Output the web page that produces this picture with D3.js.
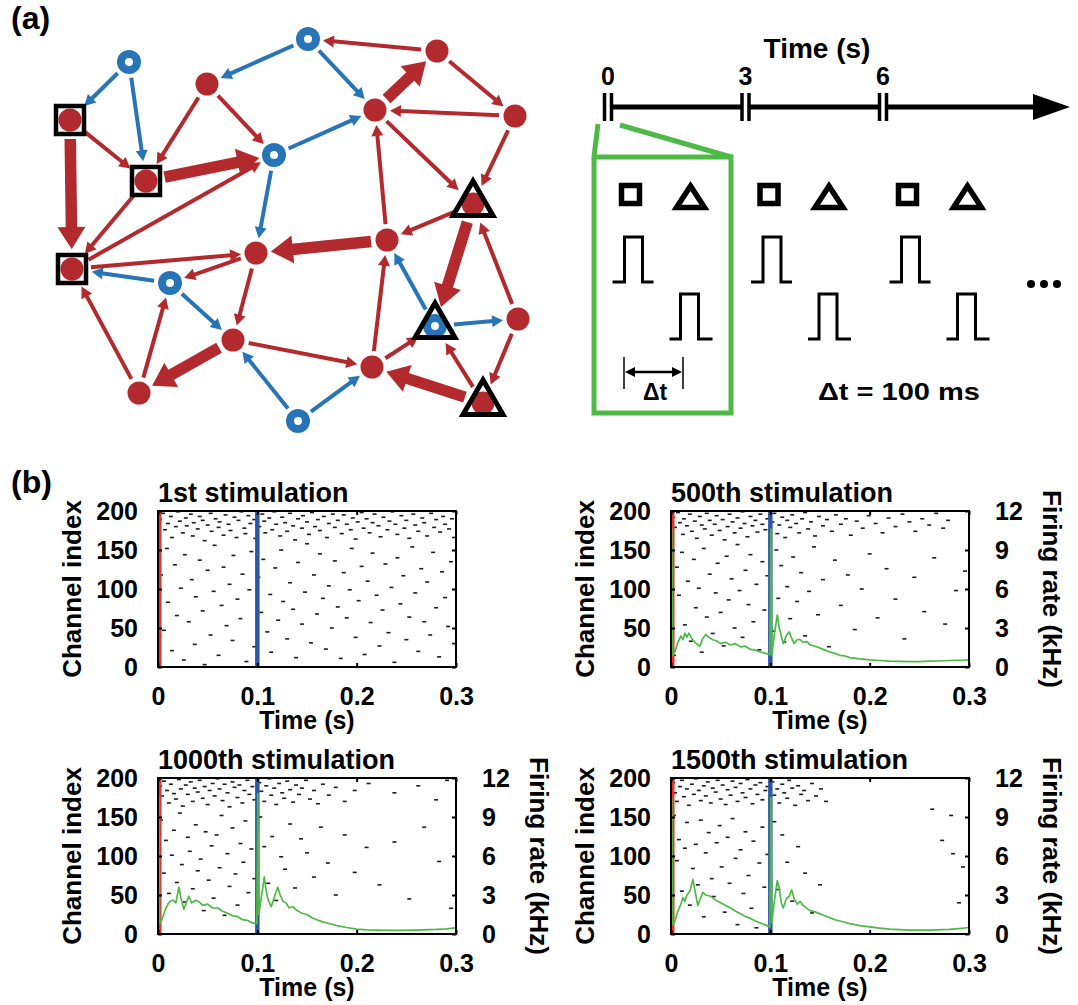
<!DOCTYPE html>
<html>
<head>
<meta charset="utf-8">
<script src="https://cdn.jsdelivr.net/npm/d3@7"></script>
<style>
body { margin: 0; background: #fff; }
svg { display: block; font-family: "Liberation Sans", Arial, Helvetica, sans-serif; font-weight: bold; }
</style>
</head>
<body>
<svg id="fig" width="1078" height="1005"></svg>
<script>
// ---------- data : network of panel (a) ----------
// E = excitatory (red), I = inhibitory (blue); mark = stimulated group
var nodes = [
	{id: "R1", type: "E", x: 207, y: 84},
	{id: "R2", type: "E", x: 437, y: 51},
	{id: "R3", type: "E", x: 375, y: 110},
	{id: "R4", type: "E", x: 515, y: 116},
	{id: "R5", type: "E", x: 70, y: 120, mark: "square"},
	{id: "R6", type: "E", x: 146, y: 181, mark: "square"},
	{id: "R7", type: "E", x: 256, y: 253},
	{id: "R8", type: "E", x: 387, y: 240},
	{id: "R9", type: "E", x: 473, y: 204, mark: "triangle"},
	{id: "R10", type: "E", x: 72, y: 269, mark: "square"},
	{id: "R11", type: "E", x: 233, y: 340},
	{id: "R12", type: "E", x: 518, y: 319},
	{id: "R13", type: "E", x: 372, y: 367},
	{id: "R14", type: "E", x: 139, y: 393},
	{id: "R15", type: "E", x: 483, y: 403, mark: "triangle"},
	{id: "B1", type: "I", x: 129, y: 62},
	{id: "B2", type: "I", x: 308, y: 39},
	{id: "B3", type: "I", x: 274, y: 155},
	{id: "B4", type: "I", x: 170, y: 283},
	{id: "B5", type: "I", x: 435, y: 326, mark: "triangle"},
	{id: "B6", type: "I", x: 298, y: 421}
];

// [source, target, weight]
var edges = [
	["B1", "R5", 1], ["B1", "R6", 1], ["B2", "R1", 1], ["B2", "R3", 1],
	["B3", "R3", 1], ["B3", "R7", 1], ["B4", "R10", 1], ["B4", "R11", 1],
	["B5", "R8", 1], ["B5", "R12", 1], ["B6", "R11", 1], ["B6", "R13", 1],
	["R1", "R6", 1], ["R1", "B3", 1], ["R2", "B2", 1], ["R3", "R2", 3],
	["R2", "R4", 1], ["R4", "R3", 1], ["R4", "R9", 1], ["R3", "R9", 1],
	["R8", "R3", 1], ["R13", "R8", 1], ["R9", "R8", 1], ["R8", "R7", 3],
	["R9", "B5", 3], ["R12", "R9", 1], ["R12", "R15", 1], ["R15", "B5", 1],
	["R15", "R13", 3], ["R13", "B5", 1], ["R11", "R13", 1], ["R11", "R14", 3],
	["R14", "R10", 1], ["R14", "B4", 1], ["R7", "R11", 1], ["R7", "B4", 1],
	["R10", "R7", 1], ["R5", "R10", 3], ["R5", "R6", 1], ["R6", "B3", 3],
	["R6", "R10", 1], ["R10", "B3", 1]
];

// ---------- data : stimulation protocol ----------
var timeTicks = [0, 3, 6];
var stimTimes = [0, 3, 6];
var deltaT = "\u0394t = 100 ms";

// ---------- data : raster plots, [time (ms), channel] ----------
var spikes1 = [
	[2,189],[5,197],[7,176],[10,184],[13,193],[14,166],[18,180],[20,199],[22,187],[25,172],[28,191],[29,181],[33,196],[35,168],[36,185],[40,177],[42,193],[45,188],[47,162],[50,182],[53,197],[54,174],[58,190],[61,179],[62,186],[66,169],[68,195],[71,183],[73,175],[77,192],[79,166],[81,188],[84,199],[87,178],[88,171],[91,194],[93,184],[97,189],[98,165],[102,180],[105,196],[107,187],[108,172],[112,191],[115,176],[117,199],[119,183],[123,168],[125,192],[128,185],[130,174],[133,197],[136,181],[138,163],[141,190],[145,178],[146,194],[150,186],[152,170],[155,198],[158,180],[161,189],[163,175],[167,193],[170,166],[172,184],[176,196],[178,179],[181,188],[185,171],[187,195],[190,183],[194,176],[196,191],[199,164],[201,186],[205,198],[207,178],[210,190],[213,172],[216,185],[218,196],[222,181],[224,167],[227,192],[231,176],[233,187],[236,199],[239,183],[241,170],[245,194],[248,178],[250,188],[253,165],[257,196],[259,182],[262,174],[266,191],[268,185],[271,168],[275,197],[278,179],[280,189],[284,173],[287,193],[289,183],[293,177],[296,190],[298,166],
	[3,118],[6,47],[9,152],[10,83],[14,21],[17,131],[19,66],[23,101],[26,9],[27,144],[31,58],[34,112],[37,29],[38,90],[42,137],[45,72],[47,3],[50,124],[53,41],[56,97],[57,156],[61,15],[64,79],[66,128],[69,53],[72,106],[75,34],[76,143],[80,87],[83,62],[85,119],[89,7],[92,99],[94,148],[97,26],[101,115],[104,70],[106,138],[110,45],[113,93],[114,19],[118,127],[121,60],[124,150],[126,84],[130,36],[133,108],[136,74],[139,12],[141,134],[145,55],[148,96],[150,158],[154,31],[157,118],[160,68],[163,145],[166,88],[169,23],[172,104],[175,50],[178,136],[181,77],[184,11],[187,121],[190,63],[193,99],[195,152],[199,38],[202,85],[205,129],[208,16],[211,110],[214,57],[216,146],[220,92],[223,27],[226,73],[229,132],[232,44],[235,102],[238,6],[241,140],[244,81],[247,117],[250,35],[253,64],[256,154],[259,95],[262,20],[265,126],[268,58],[271,109],[274,41],[277,147],[280,76],[283,13],[286,122],[289,89],[292,52],[295,135],[298,30]
];
var spikes500 = [
	[2,192],[4,179],[7,198],[9,185],[12,170],[13,190],[16,181],[19,196],[21,174],[24,187],[26,165],[29,193],[31,182],[34,177],[36,197],[39,188],[41,169],[44,183],[46,194],[49,175],[52,189],[54,163],[57,180],[59,196],[62,186],[64,172],[67,191],[70,178],[72,199],[74,184],[77,167],[80,193],[82,181],[85,188],[87,173],[90,196],[92,183],[95,176],[97,190],[102,186],[104,197],[107,171],[109,182],[112,192],[115,166],[117,188],[120,179],[122,195],[126,184],[129,172],[132,190],[135,198],[138,177],[141,186],[145,168],[149,193],[153,181],[157,189],[162,174],[166,195],[171,183],[176,190],[181,169],[187,187],[193,178],[199,194],[206,184],[213,172],[219,191],[226,180],[233,196],[240,186],[246,174],[253,190],[260,182],[267,197],[274,178],[279,188],
	[3,15],[6,128],[8,92],[11,147],[14,54],[17,110],[20,33],[23,138],[25,76],[28,101],[31,19],[33,152],[36,64],[39,119],[42,43],[45,95],[47,133],[50,70],[53,27],[56,142],[58,86],[61,113],[64,50],[67,157],[69,98],[72,38],[75,124],[78,80],[80,144],[83,58],[86,106],[89,22],[92,135],[94,73],[97,117],[103,46],[106,150],[108,88],[111,130],[114,32],[117,103],[120,62],[123,141],[127,84],[131,121],[135,40],[139,97],[144,154],[148,67],[153,112],[159,26],[165,137],[171,79],[178,118],[185,48],[192,100],[200,145],[208,63],[217,126],[226,87],[235,36],[245,115],[255,71],[265,140],[276,55],[287,98],[296,123]
];
var spikes1000 = [
	[2,190],[4,177],[6,196],[9,184],[11,168],[13,192],[16,180],[18,173],[21,198],[23,186],[25,164],[28,191],[30,179],[33,195],[35,170],[37,187],[40,182],[42,197],[45,174],[47,189],[50,166],[52,184],[55,193],[57,177],[60,199],[62,186],[65,171],[67,192],[70,181],[72,163],[75,195],[77,188],[80,175],[82,191],[85,168],[87,184],[90,197],[92,179],[95,189],[97,172],[102,194],[104,183],[107,170],[109,190],[112,199],[114,178],[117,187],[119,166],[122,193],[125,181],[127,174],[130,196],[133,185],[136,169],[139,191],[142,179],[145,187],[149,197],[153,173],[157,184],[161,167],[166,192],[172,178],[179,188],[188,170],[198,184],[212,193],[238,181],[262,190],[280,172],[291,197],
	[3,146],[6,78],[8,120],[11,52],[14,101],[16,133],[19,66],[22,155],[24,89],[27,41],[30,124],[32,106],[35,58],[38,140],[40,81],[43,96],[46,30],[48,131],[51,69],[54,113],[56,46],[59,127],[62,85],[64,152],[67,24],[70,103],[72,61],[75,136],[78,77],[80,37],[83,116],[86,92],[88,145],[91,53],[94,109],[97,71],[103,150],[107,112],[111,65],[115,125],[119,43],[124,99],[128,83],[133,141],[138,59],[144,122],[150,104],[157,73],[164,137],[171,91],[179,50],[188,127],[198,79],[210,111],[223,63],[238,118],[253,45],[268,137],[283,93],[295,33]
];
var spikes1500 = [
	[2,194],[4,181],[6,170],[9,189],[11,197],[13,176],[16,186],[18,165],[21,192],[23,179],[25,199],[28,184],[30,171],[33,190],[35,177],[37,195],[40,168],[42,187],[45,182],[47,197],[50,173],[52,191],[55,166],[57,185],[60,178],[62,196],[65,188],[67,170],[70,193],[72,181],[75,175],[77,198],[80,186],[82,167],[85,191],[87,179],[90,194],[92,172],[95,184],[97,189],[102,195],[104,178],[107,186],[109,168],[112,192],[114,181],[117,174],[119,197],[122,187],[125,165],[128,190],[131,179],[134,184],[138,171],[142,193],[146,177],[151,186],[156,170],[263,160],[282,152],
	[3,152],[6,94],[8,121],[11,55],[14,110],[16,143],[19,37],[22,84],[25,115],[27,63],[30,146],[33,22],[35,104],[38,130],[41,71],[43,48],[46,117],[49,139],[51,86],[54,28],[57,124],[59,65],[62,148],[65,97],[67,12],[70,108],[73,52],[75,131],[78,75],[81,33],[83,119],[86,8],[89,91],[92,137],[94,60],[97,102],[104,144],[108,57],[112,127],[117,92],[122,42],[128,112],[135,78],[142,27],[150,63],[273,120],[284,103],[290,40],[294,86]
];

// ---------- data : firing rate, [time (s), kHz] ----------
var rate500 = [
	[0,0.8],[0.0008,10.7],[0.0016,0.9],[0.004,1.2],[0.007,1.9],[0.01,2.4],[0.012,2.1],[0.014,2.6],[0.016,2.3],[0.018,2.6],[0.021,2.2],[0.024,1.9],[0.029,1.6],[0.032,2.2],[0.035,2.5],[0.038,2.3],[0.042,2.1],[0.046,2.0],[0.05,1.8],[0.055,1.9],[0.06,1.7],[0.065,1.8],[0.07,1.55],[0.075,1.6],[0.08,1.35],[0.085,1.3],[0.09,1.15],[0.095,1.05],[0.0995,0.95],
	[0.1005,10.6],[0.1015,0.9],[0.104,2.5],[0.107,4.0],[0.109,3.0],[0.111,2.4],[0.113,1.8],[0.116,2.4],[0.119,2.7],[0.121,2.3],[0.124,1.8],[0.127,2.1],[0.13,2.1],[0.133,1.9],[0.137,1.95],[0.14,1.7],[0.145,1.6],[0.15,1.45],[0.155,1.3],[0.16,1.15],[0.165,1.05],[0.17,0.9],[0.175,0.85],[0.18,0.72],[0.19,0.62],[0.2,0.55],[0.21,0.5],[0.22,0.45],[0.23,0.44],[0.24,0.42],[0.25,0.42],[0.26,0.45],[0.27,0.46],[0.28,0.5],[0.29,0.52],[0.3,0.55]
];
var rate1000 = [
	[0,0.6],[0.0008,10.6],[0.0016,0.8],[0.004,1.1],[0.007,1.8],[0.01,2.3],[0.012,2.5],[0.015,2.6],[0.018,2.4],[0.021,3.6],[0.023,2.8],[0.026,1.9],[0.029,2.5],[0.031,2.9],[0.034,2.4],[0.038,2.6],[0.041,2.5],[0.045,2.2],[0.05,2.3],[0.055,2.0],[0.06,2.0],[0.065,1.75],[0.07,1.6],[0.075,1.4],[0.08,1.35],[0.085,1.1],[0.09,1.05],[0.095,0.85],[0.0995,0.8],
	[0.1005,10.8],[0.1015,1.5],[0.104,2.8],[0.107,4.4],[0.109,3.3],[0.111,2.6],[0.114,2.1],[0.117,2.8],[0.1205,3.6],[0.123,3.0],[0.126,2.5],[0.129,2.4],[0.132,2.0],[0.136,2.1],[0.14,1.8],[0.145,1.6],[0.15,1.5],[0.155,1.25],[0.16,1.1],[0.165,0.95],[0.17,0.85],[0.175,0.75],[0.18,0.65],[0.19,0.5],[0.2,0.38],[0.21,0.32],[0.22,0.3],[0.24,0.28],[0.26,0.3],[0.28,0.35],[0.29,0.4],[0.3,0.47]
];
var rate1500 = [
	[0,0.6],[0.0008,10.5],[0.0016,0.7],[0.004,1.0],[0.007,1.8],[0.01,2.3],[0.012,2.8],[0.014,2.5],[0.016,3.0],[0.019,3.3],[0.022,4.2],[0.024,3.4],[0.027,2.2],[0.029,2.6],[0.032,3.2],[0.035,3.0],[0.04,2.9],[0.045,2.6],[0.05,2.4],[0.055,2.2],[0.06,2.0],[0.065,1.75],[0.07,1.55],[0.075,1.35],[0.08,1.2],[0.085,1.0],[0.09,0.85],[0.095,0.7],[0.0995,0.55],
	[0.1005,10.5],[0.1015,0.9],[0.104,2.5],[0.107,4.1],[0.109,3.5],[0.111,2.4],[0.113,2.0],[0.116,2.7],[0.119,2.9],[0.1215,3.4],[0.124,2.7],[0.127,2.3],[0.13,2.5],[0.133,2.2],[0.137,1.95],[0.14,1.8],[0.145,1.7],[0.15,1.55],[0.155,1.4],[0.16,1.25],[0.165,1.1],[0.17,1.0],[0.175,0.9],[0.18,0.8],[0.19,0.65],[0.2,0.55],[0.21,0.45],[0.22,0.38],[0.24,0.3],[0.26,0.3],[0.28,0.35],[0.29,0.42],[0.3,0.5]
];

var titles = ["1st stimulation", "500th stimulation", "1000th stimulation", "1500th stimulation"];
var spikeSets = [spikes1, spikes500, spikes1000, spikes1500];
var rateSets = [null, rate500, rate1000, rate1500];
var chTicks = [0, 50, 100, 150, 200];
var rateTicks = [0, 3, 6, 9, 12];
var timeTicksB = [0, 0.1, 0.2, 0.3];

// ---------- drawing ----------
var RED = "#b2292e", BLUE = "#2774b6", GREEN = "#4fb947";
var svg = d3.select("#fig");

svg.append("text").attr("x", 11).attr("y", 29).attr("font-size", 32).text("(a)");
svg.append("text").attr("x", 11).attr("y", 493).attr("font-size", 32).text("(b)");

/* network */
var nx = d3.scaleIdentity(), ny = d3.scaleIdentity();
var lineW = d3.scaleLinear().domain([1, 3]).range([4, 11.5]);
var headLen = d3.scaleLinear().domain([1, 3]).range([11, 22]);
var headHalf = d3.scaleLinear().domain([1, 3]).range([6, 14]);
var byId = {};
nodes.forEach(function(n) { byId[n.id] = n; });

var gNet = svg.append("g");
edges.forEach(function(e) {
	var s = byId[e[0]], t = byId[e[1]], w = e[2];
	var x1 = nx(s.x), y1 = ny(s.y), x2 = nx(t.x), y2 = ny(t.y);
	var dx = x2 - x1, dy = y2 - y1, L = Math.sqrt(dx * dx + dy * dy);
	var ux = dx / L, uy = dy / L;
	var g0 = s.mark ? 19 : 16, g1 = t.mark ? 20 : 15;
	var sx = x1 + ux * g0, sy = y1 + uy * g0;
	var tx = x2 - ux * g1, ty = y2 - uy * g1;
	var hl = headLen(w), hw = headHalf(w);
	var bx = tx - ux * hl, by = ty - uy * hl;
	var col = s.type == "E" ? RED : BLUE;
	gNet.append("line")
		.attr("x1", sx).attr("y1", sy)
		.attr("x2", bx + ux).attr("y2", by + uy)
		.attr("stroke", col)
		.attr("stroke-width", lineW(w));
	gNet.append("path")
		.attr("d", "M" + tx + "," + ty + "L" + (bx - uy * hw) + "," + (by + ux * hw) + "L" + (bx + uy * hw) + "," + (by - ux * hw) + "Z")
		.attr("fill", col);
});

nodes.forEach(function(n) {
	var cx = nx(n.x), cy = ny(n.y);
	if (n.type == "E") {
		gNet.append("circle").attr("cx", cx).attr("cy", cy).attr("r", 11.5).attr("fill", RED);
	} else {
		gNet.append("circle").attr("cx", cx).attr("cy", cy).attr("r", 12).attr("fill", BLUE);
		gNet.append("circle").attr("cx", cx).attr("cy", cy).attr("r", 4).attr("fill", "#fff");
	}
	if (n.mark == "square") {
		gNet.append("rect").attr("x", cx - 14).attr("y", cy - 14).attr("width", 28).attr("height", 28)
			.attr("fill", "none").attr("stroke", "#000").attr("stroke-width", 4.5);
	} else if (n.mark == "triangle") {
		var R = 23;
		gNet.append("path")
			.attr("d", "M" + cx + "," + (cy - R) + "L" + (cx + R * 0.866) + "," + (cy + R / 2) + "L" + (cx - R * 0.866) + "," + (cy + R / 2) + "Z")
			.attr("fill", "none").attr("stroke", "#000").attr("stroke-width", 5).attr("stroke-linejoin", "miter");
	}
});

/* time line */
var tx = d3.scaleLinear().domain([0, 6]).range([608, 883]);
var axisY = 107;
svg.append("text").attr("x", 817).attr("y", 58).attr("text-anchor", "middle").attr("font-size", 28).text("Time (s)");
var segs = [[tx(0) + 4, tx(3) - 4], [tx(3) + 4, tx(6) - 4], [tx(6) + 4, 1036]];
segs.forEach(function(s) {
	svg.append("line").attr("x1", s[0]).attr("x2", s[1]).attr("y1", axisY).attr("y2", axisY)
		.attr("stroke", "#000").attr("stroke-width", 5);
});
svg.append("path").attr("d", "M1033," + (axisY - 13) + "L1070," + axisY + "L1033," + (axisY + 13) + "Z").attr("fill", "#000");
timeTicks.forEach(function(t) {
	[-3.5, 3.5].forEach(function(o) {
		svg.append("line").attr("x1", tx(t) + o).attr("x2", tx(t) + o).attr("y1", 93).attr("y2", 121)
			.attr("stroke", "#000").attr("stroke-width", 3.5);
	});
	svg.append("text").attr("x", tx(t)).attr("y", 85).attr("text-anchor", "middle").attr("font-size", 25).text(t);
});

/* zoom box */
var gz = svg.append("g").attr("fill", "none").attr("stroke", GREEN).attr("stroke-width", 5);
gz.append("path").attr("d", "M598,124L594,157L594,413L731,413L731,157L594,157");
gz.append("path").attr("d", "M620,125L731,157");

/* stimulation schematic */
var sx = d3.scaleLinear().domain([0, 6]).range([630.5, 907.5]);
stimTimes.forEach(function(t) {
	var gx = sx(t);
	svg.append("rect").attr("x", gx - 9).attr("y", 185.5).attr("width", 18).attr("height", 18)
		.attr("fill", "none").attr("stroke", "#000").attr("stroke-width", 5.5);
	var trX = gx + 60, trY = 198;
	svg.append("path").attr("d", "M" + trX + "," + (trY - 12) + "L" + (trX + 14) + "," + (trY + 9.5) + "L" + (trX - 14) + "," + (trY + 9.5) + "Z")
		.attr("fill", "none").attr("stroke", "#000").attr("stroke-width", 5.5).attr("stroke-linejoin", "miter");
	svg.append("path").attr("d", "M" + (gx - 18) + ",282H" + (gx - 6) + "V237H" + (gx + 12) + "V282H" + (gx + 23))
		.attr("fill", "none").attr("stroke", "#000").attr("stroke-width", 3);
	svg.append("path").attr("d", "M" + (gx + 39) + ",339H" + (gx + 50) + "V294H" + (gx + 68) + "V339H" + (gx + 82))
		.attr("fill", "none").attr("stroke", "#000").attr("stroke-width", 3);
});
[1031, 1044, 1057].forEach(function(x) {
	svg.append("circle").attr("cx", x).attr("cy", 284).attr("r", 4).attr("fill", "#000");
});
// delta t arrow
[624, 683].forEach(function(x) {
	svg.append("line").attr("x1", x).attr("x2", x).attr("y1", 357).attr("y2", 389).attr("stroke", "#000").attr("stroke-width", 1.5);
});
svg.append("line").attr("x1", 632).attr("x2", 675).attr("y1", 372).attr("y2", 372).attr("stroke", "#000").attr("stroke-width", 2.5);
svg.append("path").attr("d", "M625,372L635,367L635,377Z").attr("fill", "#000");
svg.append("path").attr("d", "M682,372L672,367L672,377Z").attr("fill", "#000");
svg.append("text").attr("x", 655).attr("y", 400).attr("text-anchor", "middle").attr("font-size", 23).text("\u0394t");
svg.append("text").attr("x", 818).attr("y", 400).attr("font-size", 24)
	.attr("textLength", 162).attr("lengthAdjust", "spacingAndGlyphs").text(deltaT);

/* panel (b) */
var cols = [158, 671], rows = [511, 778], PW = 298, PH = 156;
titles.forEach(function(title, i) {
	var x0 = cols[i % 2], y0 = rows[Math.floor(i / 2)];
	var x = d3.scaleLinear().domain([0, 0.3]).range([x0, x0 + PW]);
	var y = d3.scaleLinear().domain([0, 200]).range([y0 + PH, y0]);
	var yr = d3.scaleLinear().domain([0, 12]).range([y0 + PH, y0]);
	var g = svg.append("g");

	g.selectAll("rect.spk").data(spikeSets[i]).join("rect")
		.attr("class", "spk")
		.attr("x", function(d) { return x(d[0] / 1000) - 2; })
		.attr("y", function(d) { return y(d[1]) - 0.8; })
		.attr("width", 4).attr("height", 1.6)
		.attr("fill", "#1c1c1c");

	g.append("line").attr("x1", x(0) + 1.8).attr("x2", x(0) + 1.8).attr("y1", y0).attr("y2", y0 + PH)
		.attr("stroke", "#e8342b").attr("stroke-width", 3.5);
	g.append("line").attr("x1", x(0.1)).attr("x2", x(0.1)).attr("y1", y0).attr("y2", y0 + PH)
		.attr("stroke", "#2d57a6").attr("stroke-width", 4.5);

	if (rateSets[i]) {
		g.append("path").datum(rateSets[i])
			.attr("d", d3.line().x(function(d) { return x(d[0]); }).y(function(d) { return yr(d[1]); }))
			.attr("fill", "none").attr("stroke", GREEN).attr("stroke-width", 1.7).attr("stroke-linejoin", "round");
	}

	g.append("rect").attr("x", x0).attr("y", y0).attr("width", PW).attr("height", PH)
		.attr("fill", "none").attr("stroke", "#000").attr("stroke-width", 2);

	var fmt = function(d) { return d === 0 ? "0" : d3.format(".1f")(d); };
	var axes = [
		g.append("g").attr("transform", "translate(" + x0 + ",0)").call(d3.axisLeft(y).tickValues(chTicks).tickSize(-4).tickPadding(20)),
		g.append("g").attr("transform", "translate(" + (x0 + PW) + ",0)").call(d3.axisRight(yr).tickValues(rateTicks).tickSize(-4).tickPadding(26).tickFormat(i == 0 ? function() { return ""; } : d3.format("d"))),
		g.append("g").attr("transform", "translate(0," + (y0 + PH) + ")").call(d3.axisBottom(x).tickValues(timeTicksB).tickSize(-4).tickPadding(20).tickFormat(fmt)),
		g.append("g").attr("transform", "translate(0," + y0 + ")").call(d3.axisTop(x).tickValues(timeTicksB).tickSize(-4).tickFormat(function() { return ""; }))
	];
	axes.forEach(function(a) {
		a.attr("font-family", null).attr("font-size", 25);
		a.select(".domain").remove();
		a.selectAll(".tick line").attr("stroke", "#000").attr("stroke-width", 2);
		a.selectAll(".tick text").attr("fill", "#000");
	});

	g.append("text").attr("x", x0).attr("y", y0 - 9).attr("font-size", 27).text(title);
	g.append("text").attr("transform", "translate(" + (x0 - 86) + "," + (y0 + PH / 2) + ") rotate(-90)")
		.attr("text-anchor", "middle").attr("dy", "0.35em").attr("font-size", 26).text("Channel index");
	g.append("text").attr("x", x0 + PW / 2).attr("y", y0 + PH + 62).attr("text-anchor", "middle").attr("font-size", 25).text("Time (s)");
	if (i > 0) {
		g.append("text").attr("transform", "translate(" + (x0 + PW + 83) + "," + (y0 + PH / 2) + ") rotate(90)")
			.attr("text-anchor", "middle").attr("dy", "0.35em").attr("font-size", 26).text("Firing rate (kHz)");
	}
});
</script>
</body>
</html>
